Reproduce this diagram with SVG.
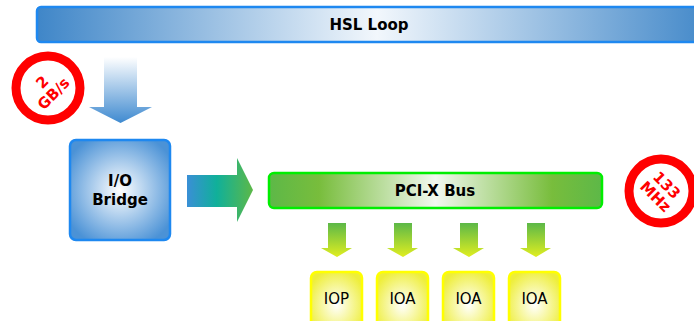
<svg xmlns="http://www.w3.org/2000/svg" width="694" height="321" viewBox="0 0 694 321">
<defs>
<linearGradient id="gBlueBar" x1="0" y1="0" x2="1" y2="0">
<stop offset="0" stop-color="#3f86c8"/><stop offset="0.5" stop-color="#f2f7fc"/><stop offset="1" stop-color="#3f86c8"/>
</linearGradient>
<linearGradient id="gGreenBar" x1="0" y1="0" x2="1" y2="0">
<stop offset="0" stop-color="#5db848"/><stop offset="0.15" stop-color="#78bd3c"/><stop offset="0.5" stop-color="#f2f8f0"/><stop offset="0.85" stop-color="#78bd3c"/><stop offset="1" stop-color="#5db848"/>
</linearGradient>
<radialGradient id="gBridge" cx="0.5" cy="0.5" r="0.6">
<stop offset="0" stop-color="#ffffff"/><stop offset="1" stop-color="#4b92d6"/>
</radialGradient>
<radialGradient id="gYellow" cx="0.5" cy="0.55" r="0.6">
<stop offset="0" stop-color="#ffffff"/><stop offset="1" stop-color="#eeee3a"/>
</radialGradient>
<linearGradient id="gDown" x1="0" y1="0" x2="0" y2="1">
<stop offset="0" stop-color="#ffffff"/><stop offset="1" stop-color="#3f8ad0"/>
</linearGradient>
<linearGradient id="gRight" x1="0" y1="0" x2="1" y2="0">
<stop offset="0" stop-color="#3a8fd6"/><stop offset="0.45" stop-color="#10b09a"/><stop offset="1" stop-color="#5cb848"/>
</linearGradient>
<linearGradient id="gSmall" x1="0" y1="0" x2="0" y2="1">
<stop offset="0" stop-color="#5cb848"/><stop offset="1" stop-color="#e0ee20"/>
</linearGradient>
</defs>
<style>
.bold{font-family:"DejaVu Sans",Verdana,sans-serif;font-weight:bold;font-size:15px;fill:#000;text-anchor:middle}
.norm{font-family:"DejaVu Sans",Verdana,sans-serif;font-size:15px;fill:#000;text-anchor:middle}
.red{font-family:"DejaVu Sans",Verdana,sans-serif;font-weight:bold;font-size:15px;fill:#ff0000;text-anchor:middle}
.ring{fill:#fff;stroke:#ff0000;stroke-width:9}
.ybox{fill:url(#gYellow);stroke:#ffff00;stroke-width:2.5}
</style>
<g id="hsl-loop">
<rect x="37" y="7" width="680" height="35" rx="4" fill="url(#gBlueBar)" stroke="#1e88f0" stroke-width="2.5"/>
<text class="bold" x="369" y="30">HSL Loop</text>
</g>
<g id="badge-2gbs">
<circle class="ring" cx="48" cy="88" r="32"/>
<g transform="translate(48,88) rotate(-45)">
<text class="red" x="0" y="-3">2</text>
<text class="red" x="0" y="13">GB/s</text>
</g>
</g>
<g id="io-bridge">
<rect x="70" y="140" width="100" height="100" rx="6" fill="url(#gBridge)" stroke="#1e88f0" stroke-width="2.5"/>
<text class="bold" x="120" y="186">I/O</text>
<text class="bold" x="120" y="205">Bridge</text>
</g>
<g id="pci-x-bus">
<rect x="269" y="173" width="333" height="35" rx="5" fill="url(#gGreenBar)" stroke="#00ee00" stroke-width="2.5"/>
<text class="bold" x="435" y="196">PCI-X Bus</text>
</g>
<g id="badge-133mhz">
<circle class="ring" cx="661" cy="191" r="32"/>
<g transform="translate(661,191) rotate(45)">
<text class="red" x="0" y="-3">133</text>
<text class="red" x="0" y="13">MHz</text>
</g>
</g>
<g id="iop">
<rect class="ybox" x="311" y="272" width="51" height="60" rx="6"/>
<text class="norm" x="336.5" y="304">IOP</text>
</g>
<g id="ioa1">
<rect class="ybox" x="377" y="272" width="51" height="60" rx="6"/>
<text class="norm" x="402.5" y="304">IOA</text>
</g>
<g id="ioa2">
<rect class="ybox" x="443" y="272" width="51" height="60" rx="6"/>
<text class="norm" x="468.5" y="304">IOA</text>
</g>
<g id="ioa3">
<rect class="ybox" x="509" y="272" width="51" height="60" rx="6"/>
<text class="norm" x="534.5" y="304">IOA</text>
</g>
<g id="connectors">
<polygon points="104,57 137,57 137,107 152,107 120.5,123 89,107 104,107" fill="url(#gDown)"/>
<polygon points="187,175 237,175 237,158 253,190 237,222 237,207 187,207" fill="url(#gRight)"/>
<polygon points="328,223 346,223 346,248 352,248 337,257 321,248 328,248" fill="url(#gSmall)"/>
<polygon points="394,223 412,223 412,248 418,248 403,257 387,248 394,248" fill="url(#gSmall)"/>
<polygon points="460,223 478,223 478,248 484,248 469,257 453,248 460,248" fill="url(#gSmall)"/>
<polygon points="527,223 545,223 545,248 551,248 536,257 520,248 527,248" fill="url(#gSmall)"/>
</g>
</svg>
